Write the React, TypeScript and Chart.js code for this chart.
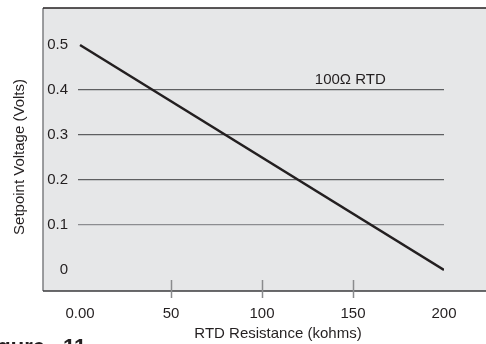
import { useEffect, useRef } from "react";
import { Chart, registerables } from "chart.js";

Chart.register(...registerables);

const resistance = [0, 200];
const voltage = [0.5, 0];
const xTicks = [0, 50, 100, 150, 200];
const xTickLabels = ["0.00", "50", "100", "150", "200"];
const xTickMarks = [50, 100, 150];
const yTicks = [0, 0.1, 0.2, 0.3, 0.4, 0.5];
const yTickLabels = ["0", "0.1", "0.2", "0.3", "0.4", "0.5"];
const yGridValues = [0.1, 0.2, 0.3, 0.4];
const xTitle = "RTD Resistance (kohms)";
const yTitle = "Setpoint Voltage (Volts)";
const curveLabel = "100Ω RTD";
const curveLabelAt = { x: 148.5, y: 0.4135 };
const captionWord = "Figure";
const captionNumber = "11";

const FONT = "'Liberation Sans', Arial, Helvetica, sans-serif";
const TEXT = "#231f20";

const framePlugin = {
  id: "frame",
  beforeDraw(chart: any) {
    const { ctx, chartArea } = chart;
    const left = 43;
    const right = chart.width;
    ctx.save();
    ctx.fillStyle = "#e6e7e8";
    ctx.fillRect(left, chartArea.top, right - left, chartArea.bottom - chartArea.top);
    ctx.restore();
  },
  afterDraw(chart: any) {
    const { ctx, chartArea, scales } = chart;
    const xs = scales.x;
    const left = 43;
    const right = chart.width;
    ctx.save();
    // frame lines
    ctx.lineWidth = 1.5;
    ctx.strokeStyle = "#7d7e80";
    ctx.beginPath();
    ctx.moveTo(left, chartArea.top);
    ctx.lineTo(left, chartArea.bottom);
    ctx.stroke();
    ctx.strokeStyle = "#231f20";
    ctx.beginPath();
    ctx.moveTo(left, chartArea.top);
    ctx.lineTo(right, chartArea.top);
    ctx.stroke();
    ctx.strokeStyle = "#3a3a3c";
    ctx.beginPath();
    ctx.moveTo(left, chartArea.bottom);
    ctx.lineTo(right, chartArea.bottom);
    ctx.stroke();
    // x tick marks
    ctx.strokeStyle = "#8a8b8d";
    ctx.lineWidth = 1.5;
    for (const v of xTickMarks) {
      const px = Math.round(xs.getPixelForValue(v)) + 0.5;
      ctx.beginPath();
      ctx.moveTo(px, chartArea.bottom - 11);
      ctx.lineTo(px, chartArea.bottom + 7);
      ctx.stroke();
    }
    // curve label
    ctx.fillStyle = TEXT;
    ctx.font = `15px ${FONT}`;
    ctx.textAlign = "center";
    ctx.textBaseline = "alphabetic";
    ctx.fillText(curveLabel, xs.getPixelForValue(curveLabelAt.x), scales.y.getPixelForValue(curveLabelAt.y));
    // axis titles
    ctx.textBaseline = "middle";
    ctx.fillText(xTitle, 278, 334);
    ctx.save();
    ctx.translate(20, 157);
    ctx.rotate(-Math.PI / 2);
    ctx.fillText(yTitle, 0, 0);
    ctx.restore();
    // caption (cut off at the bottom edge)
    ctx.font = `bold 22px ${FONT}`;
    ctx.textBaseline = "alphabetic";
    ctx.textAlign = "right";
    ctx.fillText(captionWord, 45, 354);
    ctx.textAlign = "left";
    ctx.fillText(captionNumber, 63, 354);
    ctx.restore();
  },
};

export default function App() {
  const canvasRef = useRef<HTMLCanvasElement | null>(null);

  useEffect(() => {
    const canvas = canvasRef.current;
    if (!canvas) return;
    Chart.defaults.font.family = FONT;
    const chart = new Chart(canvas, {
      type: "line",
      data: {
        datasets: [
          {
            data: resistance.map((x, i) => ({ x, y: voltage[i] })),
            borderColor: "#231f20",
            borderWidth: 2.5,
            pointRadius: 0,
            fill: false,
          },
        ],
      },
      options: {
        responsive: false,
        animation: false,
        layout: { padding: { left: 0, right: 42, top: 8, bottom: 0 } },
        plugins: { legend: { display: false }, tooltip: { enabled: false } },
        scales: {
          x: {
            type: "linear",
            min: -1.1,
            max: 200,
            grid: { display: false, drawTicks: false },
            border: { display: false },
            afterBuildTicks: (s: any) => {
              s.ticks = xTicks.map((v) => ({ value: v }));
            },
            afterFit: (s: any) => {
              s.height = 53;
              s.paddingLeft = 0;
              s.paddingRight = 0;
            },
            ticks: {
              autoSkip: false,
              maxRotation: 0,
              padding: 14,
              color: TEXT,
              font: { size: 15 },
              callback: (v: any) => xTickLabels[xTicks.indexOf(Number(v))] ?? "",
            },
          },
          y: {
            type: "linear",
            min: -0.04667,
            max: 0.58222,
            grid: {
              drawTicks: false,
              lineWidth: 1.2,
              color: (ctx: any) => {
                const v = ctx.tick ? ctx.tick.value : null;
                if (v === null || !yGridValues.includes(v)) return "rgba(0,0,0,0)";
                return v === 0.1 ? "#8c8d90" : "#5e5f61";
              },
            },
            border: { display: false },
            afterBuildTicks: (s: any) => {
              s.ticks = yTicks.map((v) => ({ value: v }));
            },
            afterFit: (s: any) => {
              s.width = 78;
              s.paddingTop = 0;
              s.paddingBottom = 0;
            },
            ticks: {
              padding: 10,
              color: TEXT,
              font: { size: 15 },
              callback: (v: any) => yTickLabels[yTicks.indexOf(Number(v))] ?? "",
            },
          },
        },
      },
      plugins: [framePlugin],
    });
    return () => chart.destroy();
  }, []);

  return (
    <div style={{ position: "absolute", left: 0, top: 0, width: 486, height: 344, background: "#ffffff" }}>
      <canvas ref={canvasRef} width={486} height={344} style={{ display: "block", width: 486, height: 344 }} />
    </div>
  );
}
